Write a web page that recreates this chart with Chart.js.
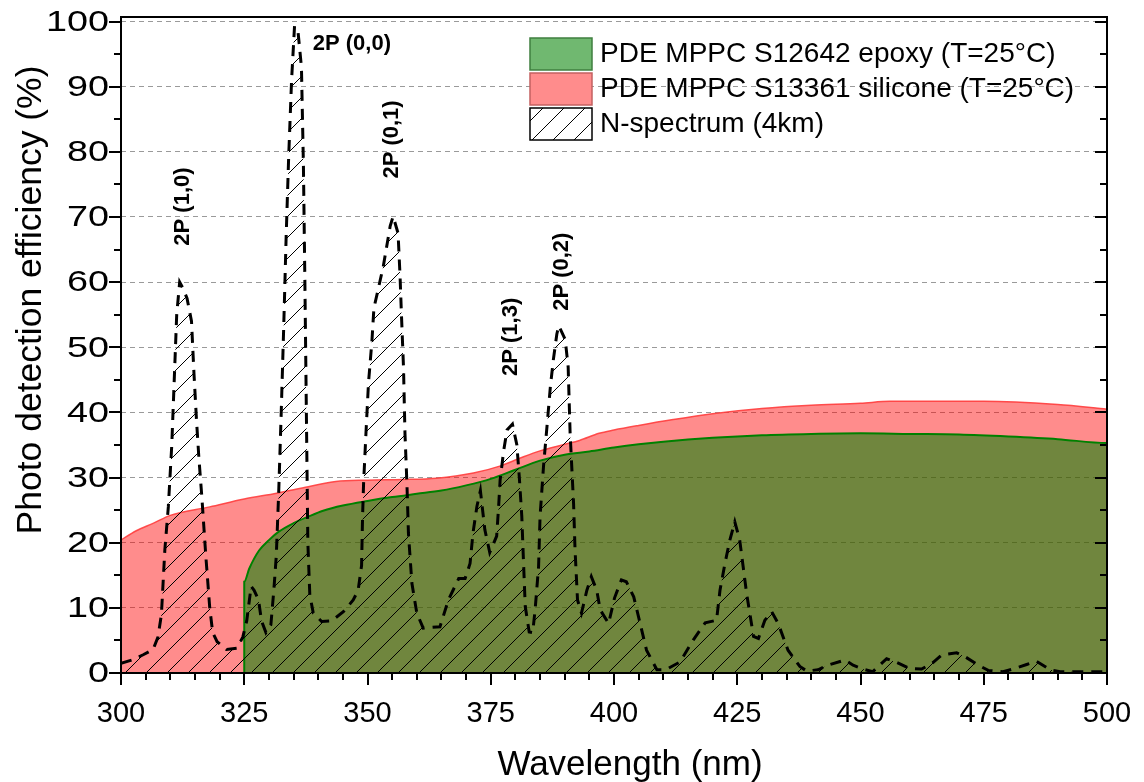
<!DOCTYPE html>
<html>
<head>
<meta charset="utf-8">
<script src="https://cdn.jsdelivr.net/npm/chart.js@4/dist/chart.umd.min.js"></script>
<style>
html, body { margin: 0; padding: 0; background: #fff; }
</style>
</head>
<body>
<canvas id="myChart" width="1144" height="782"></canvas>
<script>
// PDE curves (wavelength nm -> %)
const epoxyWl  = [325, 325, 326, 328, 330, 332, 335, 338, 341, 345, 350, 355, 360, 365, 370, 375, 380, 385, 390, 395, 400, 405, 410, 420, 430, 440, 450, 460, 470, 480, 490, 500, 500];
const epoxyPde = [0, 14.0, 16.0, 18.8, 20.4, 21.7, 23.0, 24.0, 24.9, 25.7, 26.4, 27.0, 27.5, 28.0, 28.8, 29.8, 31.2, 32.6, 33.5, 34.0, 34.6, 35.1, 35.5, 36.1, 36.5, 36.7, 36.8, 36.7, 36.6, 36.3, 35.9, 35.3, 0];

const siliconeWl  = [300, 303, 306.6, 310, 318, 325, 331.6, 338, 343.6, 350, 357, 364, 371.5, 377, 381, 385, 390, 393, 397, 400, 405, 412, 420, 430, 440, 450, 456, 475, 490, 500];
const siliconePde = [20.4, 21.8, 23.0, 24.2, 25.5, 26.7, 27.6, 28.6, 29.4, 29.6, 29.7, 29.9, 30.7, 31.8, 33.0, 34.1, 35.1, 35.7, 36.8, 37.3, 38.0, 38.9, 39.8, 40.6, 41.1, 41.4, 41.7, 41.7, 41.2, 40.5];

// N-spectrum at 4 km (relative)
const nWl = [300, 302.2, 304.5, 306.5, 307.5, 308.2, 308.9, 309.6, 310.3, 310.8, 311.3, 311.9, 312.6, 313.4, 314.3, 314.8, 315.3, 315.8, 316.4, 317.2, 318.0, 318.6, 319.5, 321.4, 323.5, 324.7, 325.5, 326.4, 327.0, 327.9, 328.5, 329.4, 330.4, 331.0, 331.5, 332.0, 332.5, 333.0, 333.5, 334.0, 334.6, 335.2, 335.9, 336.6, 337.0, 337.3, 337.6, 337.9, 338.3, 339.0, 340.7, 342.7, 345.1, 347.1, 348.1, 348.8, 349.0, 349.2, 349.7, 350.2, 350.9, 351.3, 353.2, 354.6, 355.2, 356.2, 356.6, 356.9, 357.3, 357.6, 358.0, 358.3, 359.0, 360.0, 361.3, 364.7, 366.4, 368.5, 369.8, 370.8, 371.4, 372.2, 372.9, 373.8, 374.8, 376.2, 376.6, 376.9, 377.6, 378.3, 379.4, 380.3, 380.8, 381.3, 381.6, 382.0, 382.8, 383.5, 384.0, 384.7, 385.0, 385.7, 386.4, 387.1, 387.7, 388.4, 388.8, 390.1, 390.7, 391.1, 391.8, 392.1, 392.6, 393.4, 394.5, 395.4, 396.5, 397.2, 398.9, 400.1, 401.5, 402.5, 404.0, 405.3, 406.6, 408.7, 410.5, 413.4, 416.1, 418.5, 420.8, 421.5, 422.5, 423.5, 424.5, 425.5, 426.2, 426.9, 428.3, 429.3, 430.6, 432.0, 433.3, 435.3, 437.7, 439.1, 441.4, 443.4, 446.9, 448.5, 450.5, 452.5, 455.3, 457.4, 460.0, 462.4, 464.7, 466.5, 469.5, 471.2, 473.9, 475.9, 478.9, 480.9, 483.7, 485.7, 488.5, 490.5, 495.9, 500];
const nVal = [1.5, 2.0, 2.8, 3.6, 5.5, 9, 19, 25.5, 35, 45, 55, 60, 59, 57.5, 54, 46, 39, 33, 27, 18, 10, 6.2, 4.8, 3.6, 3.8, 5.5, 8, 13.3, 12.7, 11.2, 8.0, 6.2, 7.4, 12.7, 18, 28, 40, 53, 67, 79, 91, 99.3, 98.5, 93, 78, 60, 40, 20, 12, 9.2, 7.9, 8.0, 9.4, 11.2, 12.7, 16.5, 24, 29, 37, 44.5, 51, 56, 62.4, 68.6, 70.1, 67.5, 61, 54.7, 47, 36.8, 29, 21.5, 13.8, 9.2, 6.9, 7.1, 11.2, 14.5, 14.5, 16.8, 21.5, 25.6, 28, 22, 18.5, 21, 25.6, 29.6, 34, 37.3, 38.2, 35, 30, 24, 17.9, 10.2, 6.3, 6.2, 9.7, 16.3, 24, 31.7, 37.8, 44, 48.1, 52, 53.3, 51.2, 47, 36.8, 26, 18.9, 11.2, 9.2, 12.7, 14.8, 12.7, 9.7, 7.6, 11.5, 14.3, 14.0, 11.7, 7.6, 3.5, 0.5, 0.5, 1.7, 5.1, 7.7, 8.1, 12.7, 16.8, 20.4, 23.2, 20.4, 16.3, 12.2, 5.6, 5.3, 8.1, 9.4, 7.6, 3.5, 1.0, 0.3, 0.5, 1.2, 2.0, 1.2, 0.6, 0.2, 2.2, 1.6, 0.7, 0.6, 1.6, 2.8, 3.1, 2.5, 1.2, 0.4, 0.2, 0.6, 1.3, 1.8, 0.5, 0.2, 0.2, 0.2];

const xTicks = [300, 325, 350, 375, 400, 425, 450, 475, 500];
const yTicks = [0, 10, 20, 30, 40, 50, 60, 70, 80, 90, 100];

const peakNames = ['2P (1,0)', '2P (0,0)', '2P (0,1)', '2P (1,3)', '2P (0,2)'];
const peakAt = [[312.6, 71.6], [338.9, 96.6], [355.0, 81.9], [379.1, 51.6], [389.5, 61.6]];

const FONT = "Arial, 'Liberation Sans', sans-serif";
Chart.defaults.font.family = FONT;

function toXY(xs, ys) {
  return xs.map((v, i) => ({x: v, y: ys[i]}));
}

function makeHatch() {
  const c = document.createElement('canvas');
  c.width = 21; c.height = 21;
  const g = c.getContext('2d');
  g.strokeStyle = '#000';
  g.lineWidth = 1;
  g.beginPath();
  g.moveTo(0, 21); g.lineTo(21, 0);
  g.moveTo(-2, 2); g.lineTo(2, -2);
  g.moveTo(19, 23); g.lineTo(23, 19);
  g.stroke();
  return g.createPattern(c, 'repeat');
}
const hatch = makeHatch();

// frame + ticks drawn over the fills
const frame = {
  id: 'frame',
  afterDatasetsDraw(chart) {
    const {ctx, chartArea: a, scales: {x, y}} = chart;
    ctx.save();
    ctx.strokeStyle = '#000';
    ctx.lineWidth = 2;
    ctx.strokeRect(a.left, a.top, a.right - a.left, a.bottom - a.top);
    ctx.beginPath();
    for (let v = 300; v <= 500; v += 5) {
      const px = Math.round(x.getPixelForValue(v));
      const len = xTicks.includes(v) ? 12 : 7;
      ctx.moveTo(px, a.bottom); ctx.lineTo(px, a.bottom + len);
    }
    for (let v = 0; v <= 100; v += 5) {
      const py = Math.round(y.getPixelForValue(v));
      const len = yTicks.includes(v) ? 12 : 7;
      ctx.moveTo(a.left - len, py); ctx.lineTo(a.left, py);
      ctx.moveTo(a.right - len, py); ctx.lineTo(a.right, py);
    }
    ctx.stroke();
    ctx.restore();
  }
};

// tick labels; the y labels use a wider face in the source, so stretch them
const tickLabels = {
  id: 'tickLabels',
  afterDraw(chart) {
    const {ctx, chartArea: a, scales: {x, y}} = chart;
    ctx.save();
    ctx.fillStyle = '#000';
    ctx.textBaseline = 'middle';
    ctx.font = '29px ' + FONT;
    ctx.textAlign = 'center';
    xTicks.forEach(v => {
      ctx.fillText(String(v), x.getPixelForValue(v), a.bottom + 41);
    });
    ctx.font = '30px ' + FONT;
    ctx.textAlign = 'right';
    yTicks.forEach(v => {
      ctx.save();
      ctx.translate(a.left - 12, y.getPixelForValue(v) + 1);
      ctx.scale(1.26, 1);
      ctx.fillText(String(v), 0, 0);
      ctx.restore();
    });
    ctx.restore();
  }
};

const peakText = {
  id: 'peakText',
  afterDatasetsDraw(chart) {
    const {ctx, scales: {x, y}} = chart;
    ctx.save();
    ctx.fillStyle = '#000';
    ctx.font = 'bold 22px ' + FONT;
    ctx.textBaseline = 'middle';
    peakNames.forEach((t, i) => {
      const px = x.getPixelForValue(peakAt[i][0]);
      const py = y.getPixelForValue(peakAt[i][1]);
      if (i === 1) {
        ctx.textAlign = 'left';
        ctx.fillText(t, px, py);
      } else {
        ctx.save();
        ctx.translate(px, py);
        ctx.rotate(-Math.PI / 2);
        ctx.textAlign = 'center';
        ctx.fillText(t, 0, 0);
        ctx.restore();
      }
    });
    ctx.restore();
  }
};

const legendBox = {
  id: 'legendBox',
  afterDraw(chart) {
    const {ctx} = chart;
    const strokes = ['#3f7f3f', '#c46060', '#000'];
    ctx.save();
    ctx.font = '28px ' + FONT;
    ctx.textBaseline = 'middle';
    ctx.textAlign = 'left';
    chart.data.datasets.forEach((ds, i) => {
      const top = 38 + i * 35;
      ctx.fillStyle = '#fff';
      ctx.fillRect(530, top, 62, 32);
      ctx.fillStyle = ds.backgroundColor;
      ctx.fillRect(530, top, 62, 32);
      ctx.lineWidth = 1.5;
      ctx.strokeStyle = strokes[i];
      ctx.strokeRect(530, top, 62, 32);
      ctx.fillStyle = '#000';
      ctx.fillText(ds.label, 600, top + 16);
    });
    ctx.restore();
  }
};

const axisTitles = {
  id: 'axisTitles',
  afterDraw(chart) {
    const {ctx} = chart;
    ctx.save();
    ctx.fillStyle = '#000';
    ctx.textAlign = 'center';
    ctx.textBaseline = 'middle';
    ctx.font = '35px ' + FONT;
    ctx.fillText('Wavelength (nm)', 630, 765);
    ctx.font = '35.5px ' + FONT;
    ctx.translate(31, 300);
    ctx.rotate(-Math.PI / 2);
    ctx.fillText('Photo detection efficiency (%)', 0, 0);
    ctx.restore();
  }
};

var ctx = document.getElementById('myChart').getContext('2d');

const chart = new Chart(ctx, {
  type: 'line',
  data: {
    datasets: [{
      label: 'PDE MPPC S12642 epoxy (T=25°C)',
      data: toXY(epoxyWl, epoxyPde),
      borderColor: '#008000',
      borderWidth: 2,
      backgroundColor: 'rgba(0,128,0,0.56)',
      fill: 'origin',
      pointRadius: 0,
      cubicInterpolationMode: 'monotone',
      order: 1
    }, {
      label: 'PDE MPPC S13361 silicone (T=25°C)',
      data: toXY(siliconeWl, siliconePde),
      borderColor: 'rgba(255,60,60,0.9)',
      borderWidth: 1.5,
      backgroundColor: 'rgba(255,0,0,0.45)',
      fill: 'origin',
      pointRadius: 0,
      cubicInterpolationMode: 'monotone',
      order: 2
    }, {
      label: 'N-spectrum (4km)',
      data: toXY(nWl, nVal),
      borderColor: '#000',
      borderWidth: 3,
      borderDash: [11, 8],
      borderCapStyle: 'butt',
      backgroundColor: hatch,
      fill: 'origin',
      pointRadius: 0,
      tension: 0,
      order: 0
    }]
  },
  options: {
    responsive: false,
    animation: false,
    devicePixelRatio: 1,
    layout: {padding: {top: 17, right: 37, left: 0, bottom: 0}},
    plugins: {legend: {display: false}, tooltip: {enabled: false}},
    scales: {
      x: {
        type: 'linear',
        min: 300,
        max: 500,
        afterBuildTicks: s => { s.ticks = xTicks.map(v => ({value: v})); },
        afterFit: s => { s.height = 109; },
        grid: {display: false, drawTicks: false},
        border: {display: false},
        ticks: {display: false}
      },
      y: {
        min: 0,
        max: 100.7,
        afterBuildTicks: s => { s.ticks = yTicks.map(v => ({value: v})); },
        afterFit: s => { s.width = 121; },
        grid: {color: '#9a9a9a', lineWidth: 1, drawTicks: false},
        border: {display: false, dash: [5, 4]},
        ticks: {display: false}
      }
    }
  },
  plugins: [frame, peakText, tickLabels, legendBox, axisTitles]
});
</script>
</body>
</html>
